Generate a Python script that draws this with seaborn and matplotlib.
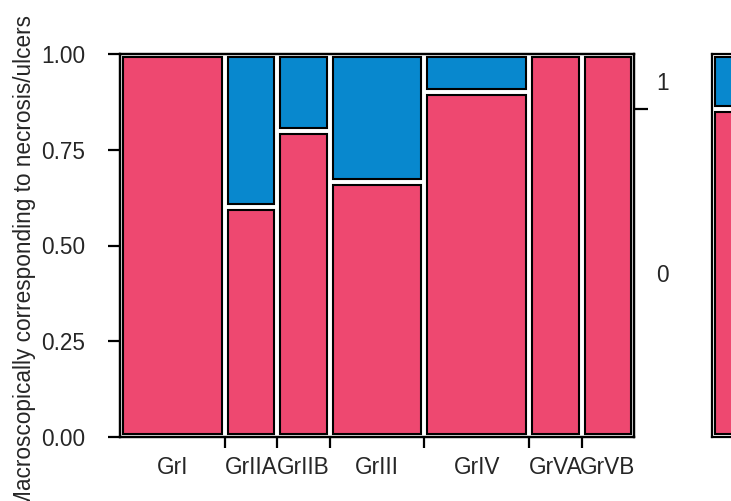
import numpy as np
import pandas as pd
import matplotlib
matplotlib.use("Agg")
import matplotlib.pyplot as plt
import seaborn as sns

# Counts per group for each response level
groups = ["GrI", "GrIIA", "GrIIB", "GrIII", "GrIV", "GrVA", "GrVB"]
n_level0 = [10, 3, 4, 6, 9, 5, 5]   # response "0"
n_level1 = [0, 2, 1, 3, 1, 0, 0]    # response "1"
levels = ["1", "0"]
y_ticks = [0.0, 0.25, 0.5, 0.75, 1.0]
y_ticklabels = ["0.00", "0.25", "0.50", "0.75", "1.00"]
y_label = "Macroscopically corresponding to necrosis/ulcers"

palette = {"0": "#EE4870", "1": "#0888CE"}
text_color = "#262626"
fs = 16.3

totals = [a + b for a, b in zip(n_level0, n_level1)]
edges = [0.0] + [float(v) for v in np.cumsum(totals)]
centers = [(lo + hi) / 2 for lo, hi in zip(edges[:-1], edges[1:])]

rows = []
for g, c, a, b in zip(groups, centers, n_level0, n_level1):
    rows.append({"group": g, "x": c, "level": "0", "n": a})
    rows.append({"group": g, "x": c, "level": "1", "n": b})
df = pd.DataFrame(rows)

tot0, tot1 = sum(n_level0), sum(n_level1)
share0 = tot0 / (tot0 + tot1)
df_all = pd.DataFrame({"x": [0.5, 0.5], "level": ["0", "1"], "n": [tot0, tot1]})

sns.set_style("ticks")
plt.rcParams["font.family"] = ["Liberation Sans", "DejaVu Sans"]
plt.rcParams["axes.edgecolor"] = "black"
plt.rcParams["axes.linewidth"] = 1.6

W, H = 731, 501
fig = plt.figure(figsize=(W / 100, H / 100), dpi=100)


def px_axes(x0, y0, x1, y1):
    return fig.add_axes([x0 / W, 1 - y1 / H, (x1 - x0) / W, (y1 - y0) / H])


def inset_cells(ax, width_px, height_px, xspan, gap_px=3.0):
    dx = gap_px * xspan / width_px
    dy = gap_px / height_px
    for p in ax.patches:
        x, y, w, h = p.get_x(), p.get_y(), p.get_width(), p.get_height()
        if h <= 0:
            p.set_visible(False)
            continue
        p.set_bounds(x + dx, y + dy, w - 2 * dx, h - 2 * dy)


# Main mosaic
ax_l, ax_t, ax_r, ax_b = 120, 54, 634, 437
ax = px_axes(ax_l, ax_t, ax_r, ax_b)
sns.histplot(data=df, x="x", weights="n", hue="level", hue_order=levels,
             bins=edges, multiple="fill", palette=palette, alpha=1,
             edgecolor="black", linewidth=1.5, legend=False, ax=ax)
ax.set_xlim(edges[0], edges[-1])
ax.set_ylim(0, 1)
inset_cells(ax, ax_r - ax_l, ax_b - ax_t, edges[-1] - edges[0])
ax.set_xlabel("")
ax.set_ylabel("")

ax.set_yticks(y_ticks, y_ticklabels)
ax.tick_params(axis="y", length=9, width=1.6, pad=16, labelsize=fs,
               labelcolor=text_color, color="black")
ax.set_xticks(edges[1:-1], [""] * (len(edges) - 2))
ax.set_xticks(centers, groups, minor=True)
ax.tick_params(axis="x", which="major", length=8, width=1.6, color="black")
ax.tick_params(axis="x", which="minor", length=0, pad=14, labelsize=fs,
               labelcolor=text_color)

# Right-hand marginal axis
ax2 = ax.twinx()
ax2.set_ylim(0, 1)
ax2.set_yticks([share0], [""])
ax2.set_yticks([share0 + (1 - share0) / 2, share0 / 2], ["1", "0"], minor=True)
ax2.tick_params(axis="y", which="major", length=10, width=1.6, color="black")
ax2.tick_params(axis="y", which="minor", length=0, pad=16, labelsize=fs,
                labelcolor=text_color)

# Overall column
bx_l, bx_r = 712, 780
axb = px_axes(bx_l, ax_t, bx_r, ax_b)
sns.histplot(data=df_all, x="x", weights="n", hue="level", hue_order=levels,
             bins=[0.0, 1.0], multiple="fill", palette=palette, alpha=1,
             edgecolor="black", linewidth=1.5, legend=False, ax=axb)
axb.set_xlim(0, 1)
axb.set_ylim(0, 1)
inset_cells(axb, bx_r - bx_l, ax_b - ax_t, 1.0)
axb.set_xticks([])
axb.set_yticks([])
axb.set_xlabel("")
axb.set_ylabel("")

fig.text(25 / W, 1 - 262 / H, y_label, rotation=90, ha="center", va="center",
         fontsize=fs, color=text_color)

fig.savefig("out.png", dpi=100)
